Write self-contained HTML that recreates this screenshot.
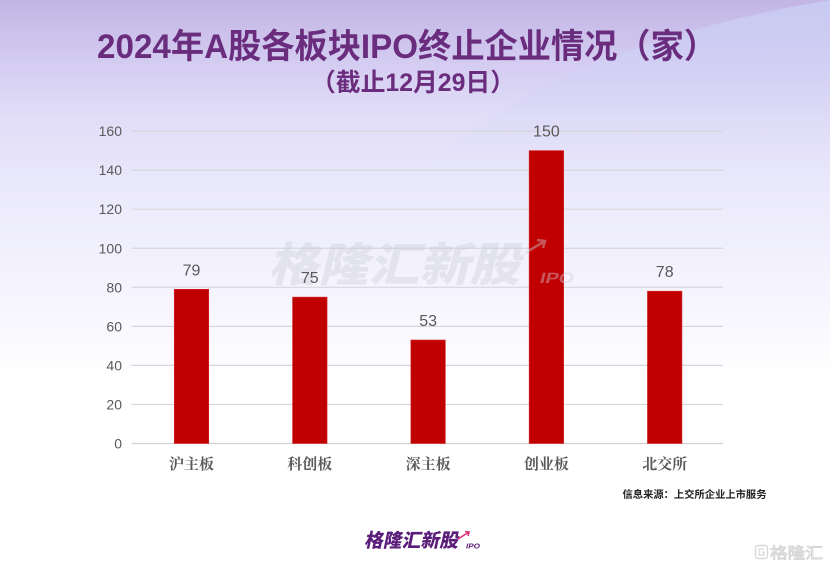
<!DOCTYPE html>
<html>
<head>
<meta charset="utf-8">
<style>
html,body{margin:0;padding:0;background:#fff;}
svg{display:block;}
</style>
</head>
<body>
<svg width="830" height="575" viewBox="0 0 830 575" xmlns="http://www.w3.org/2000/svg">
  <defs>
    <linearGradient id="bg" x1="0" y1="0" x2="0" y2="1" gradientUnits="objectBoundingBox">
      <stop offset="0" stop-color="#c2b5e4"/>
      <stop offset="0.1" stop-color="#d2caf0"/>
      <stop offset="0.2" stop-color="#e1ddf8"/>
      <stop offset="0.35" stop-color="#ecebfc"/>
      <stop offset="0.52" stop-color="#f6f5fe"/>
      <stop offset="0.66" stop-color="#ffffff"/>
      <stop offset="1" stop-color="#ffffff"/>
    </linearGradient>
    <linearGradient id="band" x1="0" y1="0" x2="0" y2="1">
      <stop offset="0" stop-color="#c8ccf4" stop-opacity="0.9"/>
      <stop offset="1" stop-color="#dcdaf8" stop-opacity="0"/>
    </linearGradient>
  </defs>
  <rect x="0" y="0" width="830" height="575" fill="url(#bg)"/>
  <path d="M420 170 Q560 45 830 0 L830 170 Z" fill="url(#band)"/>

  <!-- Title -->
  <text x="97" y="58" font-family="'Liberation Sans','Noto Sans CJK SC',sans-serif" font-weight="700" font-size="34" fill="#6a2c7d" textLength="620" lengthAdjust="spacingAndGlyphs">2024年A股各板块IPO终止企业情况（家）</text>
  <text x="311" y="91" font-family="'Liberation Sans','Noto Sans CJK SC',sans-serif" font-weight="700" font-size="25" fill="#6a2c7d" textLength="204" lengthAdjust="spacingAndGlyphs">（截止12月29日）</text>

  <!-- Gridlines -->
  <g stroke="#d6d6dc" stroke-width="1.2">
    <line x1="131.5" y1="131.1" x2="723" y2="131.1"/>
    <line x1="131.5" y1="170.15" x2="723" y2="170.15"/>
    <line x1="131.5" y1="209.2" x2="723" y2="209.2"/>
    <line x1="131.5" y1="248.25" x2="723" y2="248.25"/>
    <line x1="131.5" y1="287.3" x2="723" y2="287.3"/>
    <line x1="131.5" y1="326.35" x2="723" y2="326.35"/>
    <line x1="131.5" y1="365.4" x2="723" y2="365.4"/>
    <line x1="131.5" y1="404.45" x2="723" y2="404.45"/>
    <line x1="131.5" y1="443.5" x2="723" y2="443.5" stroke="#d0d0d4"/>
  </g>

  <!-- Y axis labels -->
  <g font-family="'Liberation Sans',sans-serif" font-size="14" fill="#595959" text-anchor="end">
    <text x="122" y="136.1">160</text>
    <text x="122" y="175.15">140</text>
    <text x="122" y="214.2">120</text>
    <text x="122" y="253.25">100</text>
    <text x="122" y="292.3">80</text>
    <text x="122" y="331.35">60</text>
    <text x="122" y="370.4">40</text>
    <text x="122" y="409.45">20</text>
    <text x="122" y="448.5">0</text>
  </g>

  <!-- Bars -->
  <g fill="#c00000" stroke="#d42a2a" stroke-width="0.6">
    <rect x="174.25" y="289.3" width="34.5" height="154.2"/>
    <rect x="292.55" y="297.1" width="34.5" height="146.4"/>
    <rect x="410.85" y="340.0" width="34.5" height="103.5"/>
    <rect x="529.15" y="150.6" width="34.5" height="292.9"/>
    <rect x="647.45" y="291.2" width="34.5" height="152.3"/>
  </g>

  <!-- Watermark -->
  <g opacity="0.42">
    <text x="0" y="0" transform="translate(268 281) skewX(-14)" font-family="'Liberation Sans','Noto Sans CJK SC',sans-serif" font-weight="900" font-size="46" fill="#cfcfdc" textLength="252" lengthAdjust="spacingAndGlyphs">格隆汇新股</text>
    <text x="0" y="0" transform="translate(539 283) skewX(-14)" font-family="'Liberation Sans',sans-serif" font-weight="700" font-size="15" fill="#cfcfdc" textLength="34" lengthAdjust="spacingAndGlyphs">IPO</text>
    <path d="M525 253 L545 241 M537 240 L545 241 L543 248" stroke="#cfcfdc" stroke-width="2.5" fill="none"/>
  </g>

  <!-- Value labels -->
  <g font-family="'Liberation Sans',sans-serif" font-size="16" fill="#595959" text-anchor="middle">
    <text x="191.5" y="275.3">79</text>
    <text x="309.8" y="283.1">75</text>
    <text x="428.1" y="326">53</text>
    <text x="546.4" y="136.6">150</text>
    <text x="664.7" y="277.2">78</text>
  </g>

  <!-- Category labels -->
  <g font-family="'Liberation Serif','Noto Serif CJK SC',serif" font-weight="700" font-size="15" fill="#595959" text-anchor="middle">
    <text x="191.5" y="469">沪主板</text>
    <text x="309.8" y="469">科创板</text>
    <text x="428.1" y="469">深主板</text>
    <text x="546.4" y="469">创业板</text>
    <text x="664.7" y="469">北交所</text>
  </g>

  <!-- Source -->
  <text x="622.5" y="498" font-family="'Liberation Sans','Noto Sans CJK SC',sans-serif" font-weight="700" font-size="10.3" fill="#222" textLength="144" lengthAdjust="spacingAndGlyphs">信息来源：上交所企业上市服务</text>

  <!-- Bottom logo -->
  <text x="0" y="0" transform="translate(364 547) skewX(-12)" font-family="'Liberation Sans','Noto Sans CJK SC',sans-serif" font-weight="900" font-size="19" fill="#5a1e7a" textLength="94" lengthAdjust="spacingAndGlyphs">格隆汇新股</text>
  <text x="466" y="548.5" font-family="'Liberation Sans',sans-serif" font-weight="700" font-style="italic" font-size="7.5" fill="#5a1e7a" textLength="14" lengthAdjust="spacingAndGlyphs">IPO</text>
  <path d="M458 539 L469 532 M465 531.5 L469 532 L468 536" stroke="#e0307a" stroke-width="1.6" fill="none"/>

  <!-- Bottom right watermark -->
  <rect x="755.5" y="545.5" width="12" height="13" rx="2.5" fill="none" stroke="#d8d8d8" stroke-width="1.4"/>
  <path d="M764 549 L759 549 L759 555 L764 555 L764 552 L762 552" stroke="#d8d8d8" stroke-width="1.3" fill="none"/>
  <text x="770" y="558" font-family="'Liberation Sans','Noto Sans CJK SC',sans-serif" font-size="15" fill="none" stroke="#d6d6d6" stroke-width="0.9" textLength="53" lengthAdjust="spacingAndGlyphs">格隆汇</text>
</svg>
</body>
</html>
